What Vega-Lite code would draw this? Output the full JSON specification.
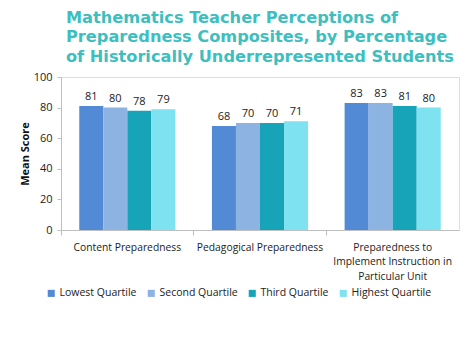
{
  "$schema": "https://vega.github.io/schema/vega-lite/v6.json",
  "width": 398,
  "height": 153,
  "autosize": {"type": "none"},
  "padding": {"left": 61, "top": 77, "right": 15, "bottom": 125},
  "background": "white",
  "title": {
    "text": ["Mathematics Teacher Perceptions of", "Preparedness Composites, by Percentage", "of Historically Underrepresented Students"],
    "anchor": "start",
    "frame": "group",
    "dx": 5,
    "offset": 6,
    "font": "DejaVu Sans",
    "fontSize": 16.2,
    "fontWeight": "bold",
    "lineHeight": 19.5,
    "color": "#3DBEBF"
  },
  "data": {
    "values": [
      {"category": "Content Preparedness", "group": "Lowest Quartile", "score": 81},
      {"category": "Content Preparedness", "group": "Second Quartile", "score": 80},
      {"category": "Content Preparedness", "group": "Third Quartile", "score": 78},
      {"category": "Content Preparedness", "group": "Highest Quartile", "score": 79},
      {"category": "Pedagogical Preparedness", "group": "Lowest Quartile", "score": 68},
      {"category": "Pedagogical Preparedness", "group": "Second Quartile", "score": 70},
      {"category": "Pedagogical Preparedness", "group": "Third Quartile", "score": 70},
      {"category": "Pedagogical Preparedness", "group": "Highest Quartile", "score": 71},
      {"category": "Preparedness to Implement Instruction in Particular Unit", "group": "Lowest Quartile", "score": 83},
      {"category": "Preparedness to Implement Instruction in Particular Unit", "group": "Second Quartile", "score": 83},
      {"category": "Preparedness to Implement Instruction in Particular Unit", "group": "Third Quartile", "score": 81},
      {"category": "Preparedness to Implement Instruction in Particular Unit", "group": "Highest Quartile", "score": 80}
    ]
  },
  "encoding": {
    "x": {
      "field": "category",
      "type": "nominal",
      "sort": null,
      "scale": {"paddingInner": 0, "paddingOuter": 0},
      "axis": {
        "title": null,
        "labelAngle": 0,
        "labelFont": "Open Sans",
        "labelFontSize": 10.3,
        "labelColor": "#222222",
        "labelPadding": 7,
        "labelLineHeight": 14.5,
        "bandPosition": 0,
        "domainColor": "#BFBFBF",
        "tickColor": "#BFBFBF",
        "tickSize": 5,
        "labelExpr": "datum.value == 'Preparedness to Implement Instruction in Particular Unit' ? ['Preparedness to', 'Implement Instruction in', 'Particular Unit'] : datum.value"
      }
    },
    "xOffset": {
      "field": "group",
      "type": "nominal",
      "sort": ["Lowest Quartile", "Second Quartile", "Third Quartile", "Highest Quartile"],
      "scale": {"paddingInner": 0, "paddingOuter": 0.76}
    },
    "y": {
      "field": "score",
      "type": "quantitative",
      "scale": {"domain": [0, 100]},
      "axis": {
        "title": "Mean Score",
        "titleFont": "Open Sans",
        "titleFontSize": 11,
        "titleFontWeight": "bold",
        "titleColor": "#111111",
        "titlePadding": 3,
        "values": [0, 20, 40, 60, 80, 100],
        "labelFont": "Open Sans",
        "labelFontSize": 11,
        "labelColor": "#222222",
        "grid": false,
        "domainColor": "#BFBFBF",
        "tickColor": "#BFBFBF",
        "tickSize": 4,
        "labelPadding": 5
      }
    }
  },
  "layer": [
    {
      "mark": {"type": "bar"},
      "encoding": {
        "color": {
          "field": "group",
          "type": "nominal",
          "sort": ["Lowest Quartile", "Second Quartile", "Third Quartile", "Highest Quartile"],
          "scale": {
            "domain": ["Lowest Quartile", "Second Quartile", "Third Quartile", "Highest Quartile"],
            "range": ["#528AD6", "#8DB3E2", "#17A3B8", "#7EE2F0"]
          },
          "legend": {
            "title": null,
            "orient": "none",
            "legendX": -15,
            "legendY": 211,
            "direction": "horizontal",
            "symbolType": "square",
            "symbolSize": 50,
            "labelFont": "Open Sans",
            "labelFontSize": 10.5,
            "labelColor": "#222222",
            "labelOffset": 3,
            "columnPadding": 9,
            "symbolStrokeWidth": 0
          }
        }
      }
    },
    {
      "mark": {"type": "text", "dy": -9, "font": "Open Sans", "fontSize": 11, "color": "#222222"},
      "encoding": {
        "text": {"field": "score", "type": "quantitative"}
      }
    }
  ]
}
